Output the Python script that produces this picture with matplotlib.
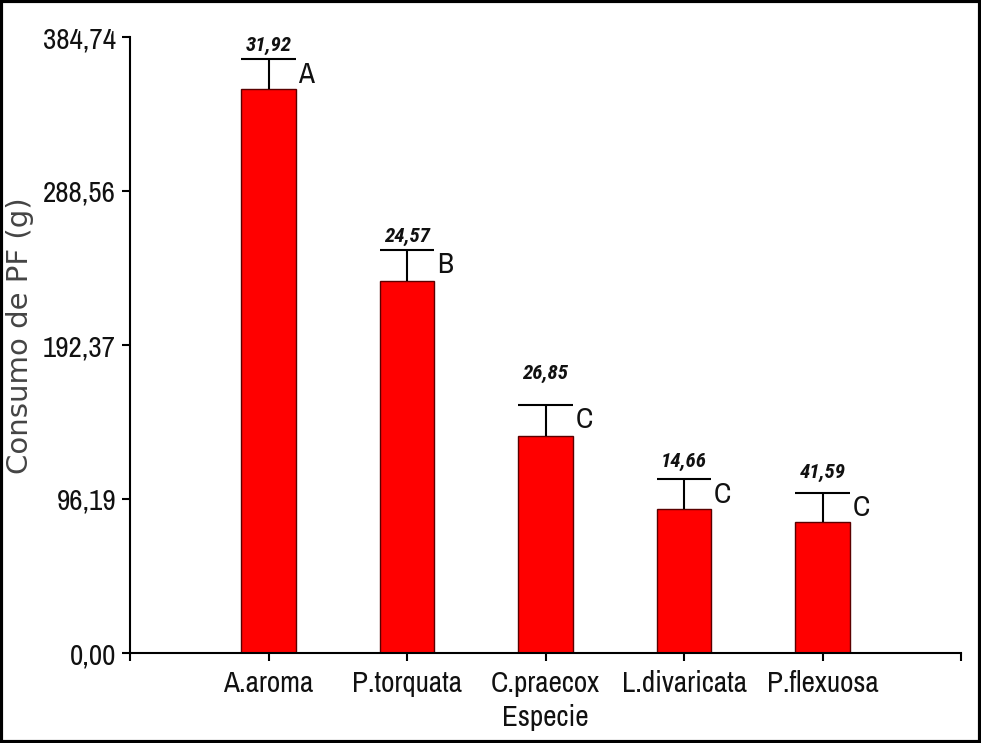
import matplotlib.pyplot as plt
from matplotlib.patches import Rectangle

# data
species = ["A.aroma", "P.torquata", "C.praecox", "L.divaricata", "P.flexuosa"]
means = [352.1, 232.5, 135.7, 89.9, 81.6]
errors = [18.7, 19.2, 19.2, 18.7, 18.5]
value_labels = ["31,92", "24,57", "26,85", "14,66", "41,59"]
groups = ["A", "B", "C", "C", "C"]
yticks = [0.0, 96.19, 192.37, 288.56, 384.74]
ytick_labels = ["0,00", "96,19", "192,37", "288,56", "384,74"]

narrow = ["Archivo Narrow", "DejaVu Sans"]
narrow_bold = ["Roboto Condensed", "Fira Sans Condensed", "DejaVu Sans"]
bar_w = 0.39
# gap (points) between cap and the value label, per bar
label_pad = [3, 3, 16, 6, 8]

fig = plt.figure(figsize=(9.81, 7.43), dpi=100)
ax = fig.add_axes([130 / 981, 90 / 743, 831 / 981, 616 / 743])

x = list(range(len(species)))
ax.bar(x, means, width=bar_w, color="#ff0000", edgecolor="#5a0000",
       linewidth=1.0, zorder=2)

tops = [m + e for m, e in zip(means, errors)]
ax.vlines(x, means, tops, color="black", linewidth=1.5, zorder=3)
ax.hlines(tops, [i - bar_w / 2 for i in x], [i + bar_w / 2 for i in x],
          color="black", linewidth=1.5, zorder=3)

for i in x:
    ax.annotate(value_labels[i], xy=(i, tops[i]),
                xytext=(0, label_pad[i]), textcoords="offset points",
                ha="center", va="bottom", fontsize=15, style="italic",
                weight="bold", family=narrow_bold, color="#111111")
    ax.annotate(groups[i], xy=(i + bar_w / 2, tops[i]),
                xytext=(2, -1), textcoords="offset points",
                ha="left", va="top", fontsize=21, family=narrow,
                color="#111111")

ax.set_xlim(-1, 5)
ax.set_ylim(0, 384.74)
ax.set_xticks([-1] + x + [5])
ax.set_xticklabels([""] + species + [""], fontsize=21, family=narrow,
                   color="#111111")
ax.set_yticks(yticks)
ax.set_yticklabels(ytick_labels, fontsize=21, family=narrow, color="#111111")
ax.tick_params(axis="both", length=6, width=1.5, direction="out",
               color="black")
ax.tick_params(axis="x", pad=6)
ax.tick_params(axis="y", pad=4)

for side in ["top", "right"]:
    ax.spines[side].set_visible(False)
for side in ["left", "bottom"]:
    ax.spines[side].set_linewidth(1.5)

ax.set_xlabel("Especie", fontsize=21, family=narrow, color="#111111",
              labelpad=5)
fig.text(20 / 981, 1 - 336 / 743, "Consumo de PF (g)", rotation=90,
         ha="center", va="center", fontsize=21, family="DejaVu Sans",
         color="#444444")

# black frame around the whole picture
fig.patches.append(Rectangle((0.0015, 0.002), 0.997, 0.996,
                             transform=fig.transFigure, fill=False,
                             edgecolor="black", linewidth=3))

fig.savefig("out.png", dpi=100)
